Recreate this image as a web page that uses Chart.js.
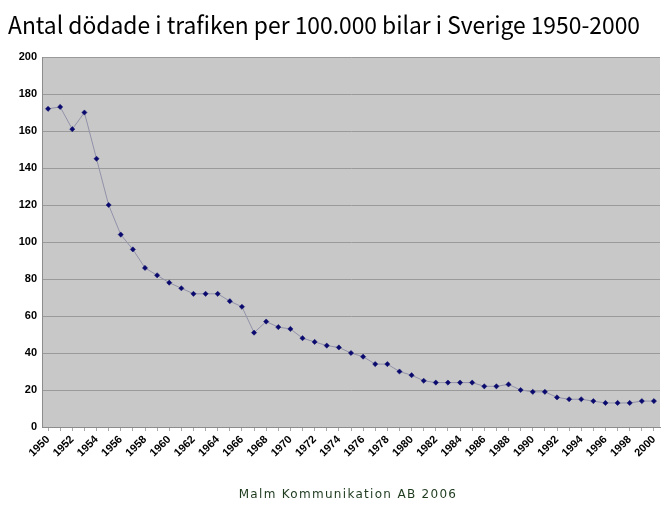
<!DOCTYPE html>
<html>
<head>
<meta charset="utf-8">
<script src="https://cdn.jsdelivr.net/npm/chart.js@4.4.0/dist/chart.umd.min.js"></script>
<style>
  html, body { margin: 0; padding: 0; background: #fff; }
  #wrap { position: relative; width: 672px; height: 512px; overflow: hidden; }
  #chart { position: absolute; left: 0; top: 0; }
  #title {
    position: absolute; left: 8px; top: 6px;
    font-family: "Noto Sans CJK JP", "Noto Sans", sans-serif;
    font-size: 24px; color: #000; white-space: nowrap;
    transform-origin: left top;
  }
  #footer {
    position: absolute; left: 0; width: 696px; top: 487px; text-align: center;
    font-family: "DejaVu Sans", sans-serif; font-size: 12px;
    letter-spacing: 1.3px; color: #1d3a1d; white-space: nowrap;
  }
</style>
</head>
<body>
<div id="wrap">
  <canvas id="chart" width="672" height="512"></canvas>
  <div id="title">Antal dödade i trafiken per 100.000 bilar i Sverige 1950-2000</div>
  <div id="footer">Malm Kommunikation AB 2006</div>
</div>
<script>
/* ==========================================================
   DATA
   ==========================================================*/
const years = [];
for (let y = 1950; y <= 2000; y++) years.push(String(y));

const deathsPer100k = [
  172, 173, 161, 170, 145, 120, 104, 96, 86, 82,
  78, 75, 72, 72, 72, 68, 65, 51, 57, 54,
  53, 48, 46, 44, 43, 40, 38, 34, 34, 30,
  28, 25, 24, 24, 24, 24, 22, 22, 23, 20,
  19, 19, 16, 15, 15, 14, 13, 13, 13, 14,
  14
];

const yTicks = { min: 0, max: 200, step: 20 };

/* ==========================================================
   FIT TITLE WIDTH
   ==========================================================*/
const title = document.getElementById("title");
const tw = title.getBoundingClientRect().width;
title.style.transform = `scaleX(${632 / tw})`;

/* ==========================================================
   PLOT BACKGROUND
   ==========================================================*/
const plotBg = {
  id: "plotBg",
  beforeDraw(chart) {
    const { ctx, chartArea: a } = chart;
    ctx.save();
    ctx.fillStyle = "#c8c8c8";
    ctx.fillRect(a.left, a.top, a.right - a.left, a.bottom - a.top);
    ctx.restore();
  },
};

/* ==========================================================
   CHART
   ==========================================================*/
new Chart(document.getElementById("chart"), {
  type: "line",
  data: {
    labels: years,
    datasets: [
      {
        label: "Dödade per 100.000 bilar",
        data: deathsPer100k,
        borderColor: "#9292aa",
        borderWidth: 1,
        pointStyle: "rectRot",
        pointRadius: 2.6,
        pointBackgroundColor: "#0a0a6e",
        pointBorderColor: "#0a0a6e",
        pointBorderWidth: 0.5,
        tension: 0,
        fill: false,
      },
    ],
  },
  options: {
    responsive: false,
    animation: false,
    layout: { padding: { top: 57, right: 12, left: 0, bottom: 0 } },
    plugins: {
      legend: { display: false },
      tooltip: { enabled: false },
    },
    scales: {
      x: {
        offset: true,
        afterFit: (s) => { s.height = 85; },
        border: { color: "#8c8c8c" },
        grid: {
          drawOnChartArea: false,
          tickLength: 4,
          color: "#a8a8a8",
        },
        ticks: {
          autoSkip: false,
          maxRotation: 45,
          minRotation: 45,
          padding: 2,
          color: "#000",
          font: { family: "Liberation Sans", size: 11, weight: "bold" },
          callback: (v, i) => (i % 2 === 0 ? years[i] : ""),
        },
      },
      y: {
        min: yTicks.min,
        max: yTicks.max,
        afterFit: (s) => { s.width = 42; },
        border: { color: "#8c8c8c" },
        grid: { color: "#9a9a9a", tickLength: 4, drawTicks: false },
        ticks: {
          stepSize: yTicks.step,
          padding: 5,
          color: "#000",
          font: { family: "Liberation Sans", size: 11, weight: "bold" },
        },
      },
    },
  },
  plugins: [plotBg],
});
</script>
</body>
</html>
